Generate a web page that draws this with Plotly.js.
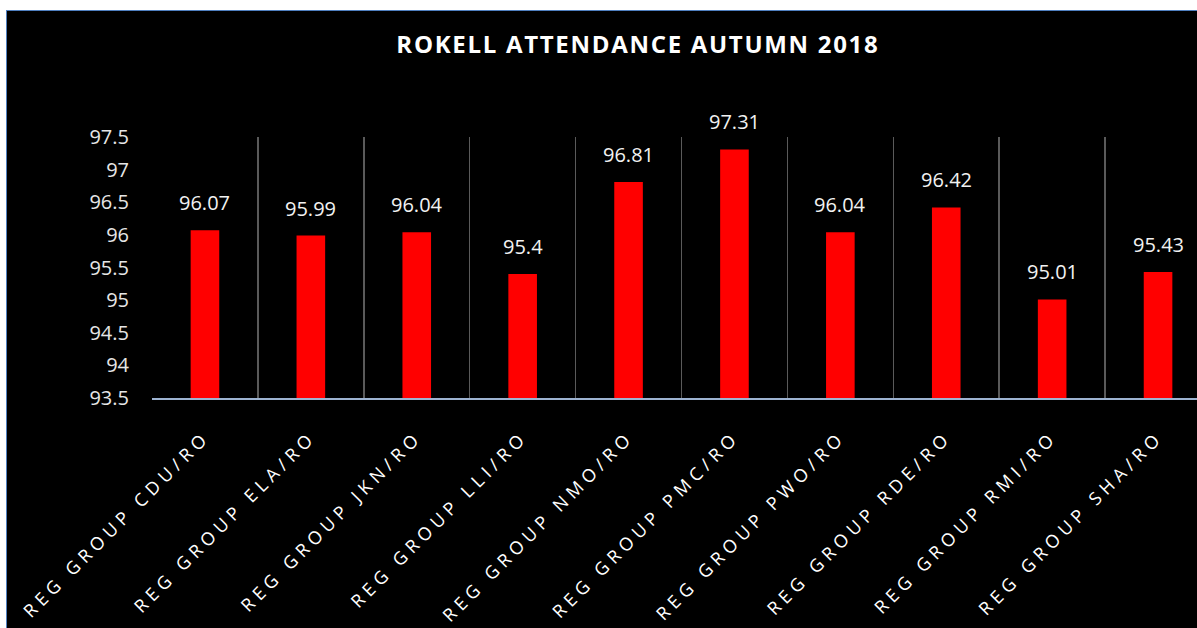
<!DOCTYPE html>
<html>
<head>
<meta charset="utf-8">
<script src="https://cdn.plot.ly/plotly-3.0.1.min.js"></script>
<style>
  html, body { margin: 0; padding: 0; background: #ffffff; overflow: hidden; width: 1197px; height: 628px; }
  #frame { position: absolute; left: 6px; top: 10px; width: 1220px; height: 630px; border-left: 1px solid #4f7fbf; border-top: 1px solid #4f7fbf; background: #000; }
  #chart { position: absolute; left: 0px; top: 0px; width: 1204px; height: 618px; }
  .xtick text { letter-spacing: 5px; }
  .gtitle { letter-spacing: 1.7px; }
</style>
</head>
<body>
<div id="frame"><div id="chart"></div></div>
<script>
const categories = ["REG GROUP CDU/RO", "REG GROUP ELA/RO", "REG GROUP JKN/RO", "REG GROUP LLI/RO", "REG GROUP NMO/RO", "REG GROUP PMC/RO", "REG GROUP PWO/RO", "REG GROUP RDE/RO", "REG GROUP RMI/RO", "REG GROUP SHA/RO"];
const attendance = [96.07, 95.99, 96.04, 95.4, 96.81, 97.31, 96.04, 96.42, 95.01, 95.43];
const yTickVals = [93.5, 94, 94.5, 95, 95.5, 96, 96.5, 97, 97.5];
const yTickText = ["93.5", "94", "94.5", "95", "95.5", "96", "96.5", "97", "97.5"];
const chartTitle = "ROKELL ATTENDANCE AUTUMN 2018";

const trace = {
  type: "bar",
  x: categories,
  y: attendance,
  base: 0,
  marker: { color: "#ff0000" },
  hoverinfo: "x+y"
};

const annotations = categories.map((c, i) => ({
  x: c, y: attendance[i], xref: "x", yref: "y",
  text: String(attendance[i]),
  showarrow: false, yanchor: "bottom", yshift: 12,
  font: { family: "Open Sans, sans-serif", size: 20, color: "#f2f2f2" }
}));

const layout = {
  width: 1204, height: 618,
  paper_bgcolor: "#000000", plot_bgcolor: "#000000",
  margin: { l: 145, r: 0, t: 126, b: 231, autoexpand: false },
  bargap: 0.73,
  showlegend: false,
  title: {
    text: "<b>" + chartTitle + "</b>",
    font: { family: "Open Sans, sans-serif", size: 24, color: "#ffffff" },
    x: 0.524, xref: "container", xanchor: "center",
    y: 0.945, yref: "container", yanchor: "middle"
  },
  xaxis: {
    type: "category",
    tickangle: -45,
    tickson: "boundaries",
    showgrid: true, gridcolor: "#5a5a5a", gridwidth: 1.5,
    showline: true, linecolor: "#9db3d1", linewidth: 1.5,
    ticks: "", ticklen: 0, ticklabelstandoff: 20,
    tickfont: { family: "Open Sans, sans-serif", size: 18, color: "#ffffff" },
    automargin: false
  },
  yaxis: {
    range: [93.5, 97.5],
    tickvals: yTickVals, ticktext: yTickText,
    showgrid: false, zeroline: false, showline: false,
    ticks: "", ticklabelstandoff: 22,
    tickfont: { family: "Open Sans, sans-serif", size: 20, color: "#e6e6e6" },
    automargin: false
  },
  annotations: annotations
};

Plotly.newPlot("chart", [trace], layout, { staticPlot: true, displayModeBar: false });
</script>
</body>
</html>
